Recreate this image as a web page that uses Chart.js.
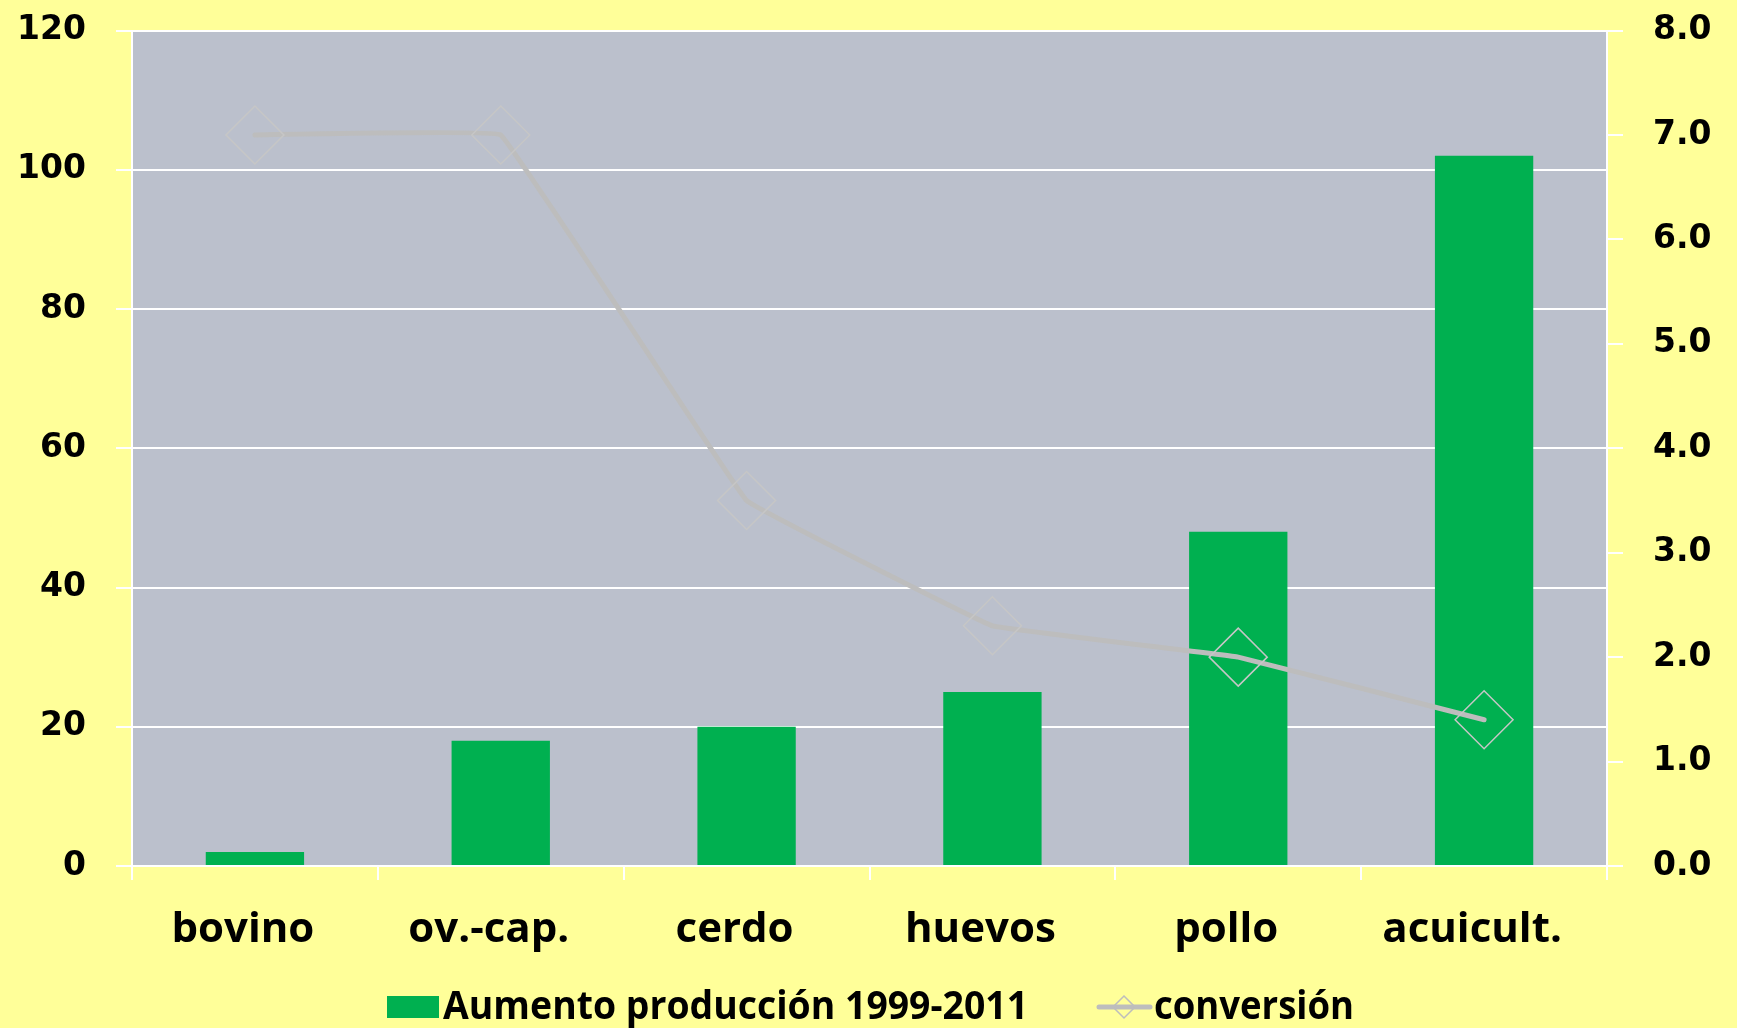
<!DOCTYPE html>
<html>
<head>
<meta charset="utf-8">
<script src="https://cdn.jsdelivr.net/npm/chart.js@4.4.0/dist/chart.umd.min.js"></script>
<style>
  html, body { margin: 0; padding: 0; background: #FFFF99; }
  #wrap { width: 1737px; height: 1028px; }
</style>
</head>
<body>
<div id="wrap"><canvas id="myChart" width="1737" height="1028"></canvas></div>
<script>
const categories = ['bovino', 'ov.-cap.', 'cerdo', 'huevos', 'pollo', 'acuicult.'];
const aumento = [2, 18, 20, 25, 48, 102];
const conversion = [7.0, 7.0, 3.5, 2.3, 2.0, 1.4];
const barLabel = 'Aumento producción 1999-2011';
const lineLabel = 'conversión';

const green = '#00B050';
const grey = '#BDBDBD';
const fontFam = '"Open Sans", "DejaVu Sans", sans-serif';
const tickFam = '"DejaVu Sans", sans-serif';

// fondo amarillo + area de grafico gris azulado
const plotBg = {
  id: 'plotBg',
  beforeDraw(chart) {
    const { ctx, chartArea: a } = chart;
    ctx.save();
    ctx.fillStyle = '#FFFF99';
    ctx.fillRect(0, 0, chart.width, chart.height);
    ctx.fillStyle = '#BBC0CC';
    ctx.fillRect(a.left, a.top, a.right - a.left, a.bottom - a.top);
    ctx.restore();
  }
};

function squeezeText(ctx, text, x, y, w) {
  const m = ctx.measureText(text).width;
  const sx = Math.min(1, w / m);
  ctx.save();
  ctx.translate(x, y);
  ctx.scale(sx, 1);
  ctx.fillText(text, 0, 0);
  ctx.restore();
}

// leyenda abajo, como en Excel
const bottomLegend = {
  id: 'bottomLegend',
  afterDraw(chart) {
    const ctx = chart.ctx;
    const cy = 1007;
    ctx.save();
    ctx.fillStyle = green;
    ctx.fillRect(387, cy - 11, 52, 22);
    ctx.fillStyle = '#000';
    ctx.font = 'bold 39px ' + fontFam;
    ctx.textBaseline = 'alphabetic';
    squeezeText(ctx, barLabel, 443, cy + 12, 585);

    ctx.strokeStyle = grey;
    ctx.lineWidth = 5;
    ctx.lineCap = 'round';
    ctx.beginPath();
    ctx.moveTo(1099, cy);
    ctx.lineTo(1150, cy);
    ctx.stroke();
    ctx.lineWidth = 1.5;
    ctx.beginPath();
    ctx.moveTo(1124, cy - 11);
    ctx.lineTo(1135, cy);
    ctx.lineTo(1124, cy + 11);
    ctx.lineTo(1113, cy);
    ctx.closePath();
    ctx.stroke();

    ctx.fillStyle = '#000';
    squeezeText(ctx, lineLabel, 1154, cy + 12, 200);
    ctx.restore();
  }
};

// ancho fijo del eje y sin relleno extra arriba/abajo
function fixY(w) {
  return s => {
    s.width = w;
    s.paddingTop = 0;
    s.paddingBottom = 0;
  };
}

const ctx = document.getElementById('myChart').getContext('2d');
const myChart = new Chart(ctx, {
  data: {
    labels: categories,
    datasets: [{
      type: 'line',
      label: lineLabel,
      data: conversion,
      yAxisID: 'y1',
      order: 1,
      borderColor: grey,
      borderWidth: 5,
      borderCapStyle: 'round',
      borderJoinStyle: 'round',
      tension: 0.04,
      pointStyle: 'rectRot',
      pointRadius: 29,
      pointBorderColor: '#C6C6C6',
      pointBorderWidth: 1.5,
      pointBackgroundColor: 'rgba(0,0,0,0)'
    }, {
      type: 'bar',
      label: barLabel,
      data: aumento,
      yAxisID: 'y',
      order: 2,
      backgroundColor: green,
      barPercentage: 0.4,
      categoryPercentage: 1.0
    }]
  },
  options: {
    responsive: false,
    animation: false,
    layout: { padding: { top: 27, bottom: 62, left: 0, right: 0 } },
    plugins: {
      legend: { display: false },
      tooltip: { enabled: false }
    },
    scales: {
      x: {
        offset: true,
        grid: { offset: true, drawOnChartArea: false, color: '#FFFFFF', lineWidth: 2, tickLength: 14 },
        border: { color: '#FFFFFF', width: 2 },
        ticks: {
          color: '#000',
          autoSkip: false,
          maxRotation: 0,
          padding: 25,
          labelOffset: -12,
          font: { family: fontFam, weight: 'bold', size: 42 }
        },
        afterFit(s) { s.height = 100; }
      },
      y: {
        position: 'left',
        min: 0,
        max: 120,
        ticks: {
          stepSize: 20,
          color: '#000',
          padding: 30,
          font: { family: tickFam, weight: 'bold', size: 33 }
        },
        grid: { color: '#FFFFFF', lineWidth: 2, tickLength: 16 },
        border: { color: '#FFFFFF', width: 2 },
        afterFit: fixY(132)
      },
      y1: {
        position: 'right',
        min: 0,
        max: 8,
        ticks: {
          stepSize: 1,
          color: '#000',
          padding: 30,
          font: { family: tickFam, weight: 'bold', size: 33 },
          callback: v => v.toFixed(1)
        },
        grid: { drawOnChartArea: false, color: '#FFFFFF', lineWidth: 2, tickLength: 16 },
        border: { color: '#FFFFFF', width: 2 },
        afterFit: fixY(130)
      }
    }
  },
  plugins: [plotBg, bottomLegend]
});
</script>
</body>
</html>
